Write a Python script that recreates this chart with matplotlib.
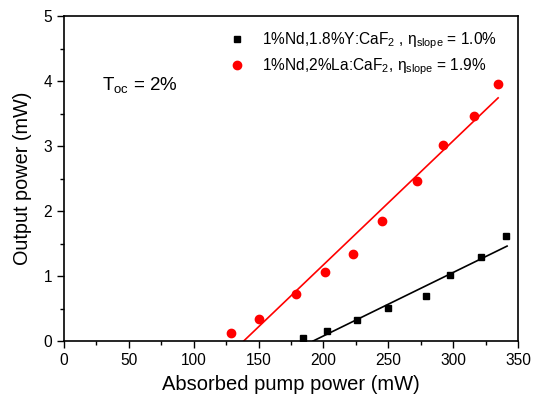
import numpy as np
import matplotlib
matplotlib.use('Agg')
import matplotlib.pyplot as plt
from matplotlib.ticker import MultipleLocator

plt.rcParams['font.family'] = ['Liberation Sans', 'DejaVu Sans']
plt.rcParams['mathtext.fontset'] = 'custom'
plt.rcParams['mathtext.rm'] = 'Liberation Sans'

# measured points (absorbed pump power mW, output power mW)
y_x = [184, 203, 226, 250, 279, 297.7, 321.5, 340.8]
y_p = [0.05, 0.15, 0.32, 0.51, 0.69, 1.01, 1.29, 1.61]
la_x = [128.5, 150, 179, 200.8, 223, 245, 272, 292, 316, 334.6]
la_p = [0.12, 0.34, 0.72, 1.06, 1.34, 1.85, 2.46, 3.02, 3.46, 3.95]

# linear fit end points
y_fit_x = [192, 341.5]
y_fit_p = [0.0, 1.46]
la_fit_x = [138.5, 334.6]
la_fit_p = [0.0, 3.74]

lab_y = r'1%Nd,1.8%Y:CaF$_\mathregular{2}$ , η$_\mathregular{slope}$ = 1.0%'
lab_la = r'1%Nd,2%La:CaF$_\mathregular{2}$, η$_\mathregular{slope}$ = 1.9%'

fig = plt.figure(figsize=(5.38, 4.0), dpi=100)
ax = fig.add_axes([0.119, 0.1475, 0.844, 0.8125])

ax.plot(y_fit_x, y_fit_p, color='black', lw=1.2)
ax.plot(la_fit_x, la_fit_p, color='red', lw=1.2)
ax.plot(y_x, y_p, 's', color='black', ms=5, label=lab_y)
ax.plot(la_x, la_p, 'o', color='red', ms=6, label=lab_la)

ax.set_xlim(0, 350)
ax.set_ylim(0, 5)
ax.xaxis.set_major_locator(MultipleLocator(50))
ax.xaxis.set_minor_locator(MultipleLocator(25))
ax.yaxis.set_major_locator(MultipleLocator(1))
ax.yaxis.set_minor_locator(MultipleLocator(0.5))
ax.tick_params(which='major', direction='out', length=5, width=1, labelsize=11.2)
ax.tick_params(which='minor', direction='out', length=3, width=1)
for s in ax.spines.values():
    s.set_linewidth(1.2)

ax.set_xlabel('Absorbed pump power (mW)', fontsize=14.5, labelpad=5)
ax.set_ylabel('Output power (mW)', fontsize=14.3, labelpad=8)

ax.text(0.083, 0.77, r'T$_\mathregular{oc}$ = 2%', transform=ax.transAxes, fontsize=13.5)

ax.legend(loc='upper right', bbox_to_anchor=(0.978, 0.99), frameon=False,
          fontsize=11.2, handlelength=1.0, handletextpad=1.1,
          borderaxespad=0.3, labelspacing=0.35)

fig.savefig('out.png', dpi=100)
